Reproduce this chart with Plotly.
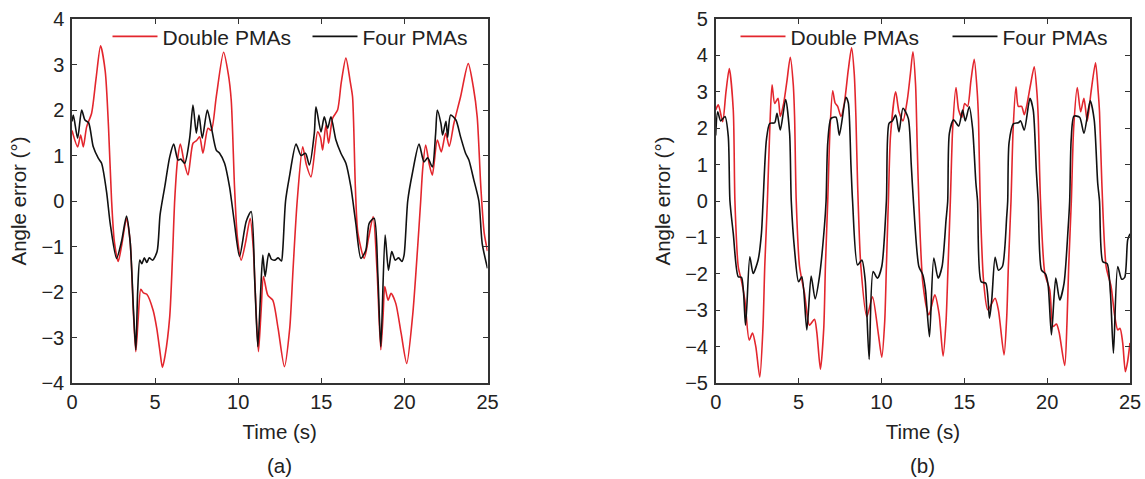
import plotly.graph_objects as go

# ---------------- data: panel (a) ----------------
t_a_double = [0.0, 0.34, 0.52, 0.68, 0.88, 1.18, 1.45, 1.72, 2.0, 2.2, 2.38, 2.55, 2.78, 3.0, 3.28,
              3.5, 3.7, 3.84, 3.98, 4.14, 4.3, 4.5, 4.88, 5.1, 5.28, 5.44, 5.6, 5.88, 6.05, 6.18,
              6.35, 6.52, 6.75, 6.98, 7.28, 7.5, 7.68, 7.88, 8.18, 8.38, 8.68, 9.12, 9.4, 9.58,
              9.78, 9.95, 10.18, 10.45, 10.72, 10.9, 11.1, 11.22, 11.38, 11.52, 11.78, 12.08,
              12.4, 12.78, 13.1, 13.3, 13.55, 13.88, 14.1, 14.38, 14.78, 14.95, 15.08, 15.28,
              15.44, 15.68, 15.98, 16.2, 16.48, 16.75, 16.88, 17.05, 17.2, 17.58, 17.85, 18.12,
              18.35, 18.58, 18.72, 18.82, 19.02, 19.2, 19.48, 19.8, 20.14, 20.5, 20.8, 20.98,
              21.1, 21.28, 21.5, 21.68, 21.98, 22.22, 22.48, 22.7, 22.98, 23.38, 23.84, 24.15,
              24.38, 24.6, 24.8, 25.0]
y_a_double = [1.55, 1.19, 1.45, 1.19, 1.63, 1.93, 2.7, 3.41, 2.85, 1.6, 0.02, -0.9, -1.33, -0.95, -0.38,
              -0.9, -2.5, -3.31, -2.6, -1.94, -2.02, -2.05, -2.40, -2.8, -3.27, -3.66, -3.4, -2.54, -1.2, 0.02,
              0.9, 1.25, 0.85, 0.57, 1.27, 1.33, 1.41, 1.05, 1.6, 1.55, 2.29, 3.27, 2.8, 2.22,
              0.3, -0.8, -1.30, -0.9, -0.38, -1.0, -2.6, -3.31, -2.4, -1.66, -2.07, -2.18,
              -2.8, -3.64, -2.8, -1.5, 0.0, 1.19, 0.8, 0.53, 1.52, 1.4, 1.12, 1.67,
              1.27, 1.82, 2.0, 2.6, 3.14, 2.6, 2.29, 0.3, -0.7, -1.26, -0.8, -0.34,
              -1.5, -3.27, -2.5, -1.88, -2.18, -2.03, -2.25, -2.9, -3.57, -2.5, -1.0, 0.0,
              0.7, 1.23, 0.8, 0.57, 1.34, 1.08, 1.49, 1.2, 1.71, 2.29, 3.02, 2.5,
              1.85, 0.3, -0.7, -1.1]

t_a_four = [0.0, 0.08, 0.34, 0.58, 0.78, 1.0, 1.28, 1.58, 1.78, 2.08, 2.3, 2.68, 2.98, 3.28, 3.5,
            3.7, 3.84, 3.95, 4.08, 4.2, 4.35, 4.5, 4.65, 4.85, 5.12, 5.3, 5.58, 5.88, 6.12, 6.38,
            6.55, 6.78, 7.08, 7.28, 7.48, 7.64, 7.84, 8.14, 8.38, 8.68, 8.88, 9.18, 9.48, 9.6,
            9.78, 10.08, 10.48, 10.78, 11.0, 11.18, 11.35, 11.48, 11.62, 11.84, 12.0, 12.2, 12.4,
            12.6, 12.68, 12.85, 13.08, 13.48, 13.78, 14.05, 14.28, 14.58, 14.68, 14.98, 15.18,
            15.38, 15.58, 15.88, 16.18, 16.48, 16.78, 16.9, 17.08, 17.38, 17.68, 17.88, 18.18,
            18.4, 18.58, 18.84, 19.04, 19.24, 19.45, 19.65, 19.85, 19.98, 20.2, 20.48, 20.88,
            21.18, 21.4, 21.68, 21.88, 21.98, 22.2, 22.3, 22.5, 22.6, 22.78, 23.1, 23.38, 23.68,
            23.88, 24.18, 24.48, 24.68, 25.0]
y_a_four = [1.75, 1.89, 1.38, 2.0, 1.78, 1.72, 1.19, 0.94, 0.83, 0.2, -0.5, -1.26, -0.89, -0.33, -0.9,
            -2.4, -3.27, -2.0, -1.30, -1.38, -1.25, -1.35, -1.25, -1.3, -1.11, -0.3, 0.31, 0.97, 1.25, 0.90,
            0.92, 0.83, 1.38, 2.11, 1.49, 1.89, 1.38, 2.0, 1.63, 1.12, 1.05, 0.83, 0.31, 0.0,
            -0.5, -1.22, -0.45, -0.23, -1.8, -3.2, -2.0, -1.19, -1.66, -1.15, -1.28, -1.3, -1.25,
            -1.32, -1.08, 0.0, 0.53, 1.25, 1.0, 1.05, 0.79, 1.49, 2.07, 1.52, 1.85,
            1.6, 1.85, 1.34, 1.05, 0.83, 0.31, 0.0, -0.5, -1.26, -1.08, -0.49, -0.38,
            -1.6, -3.2, -0.75, -1.52, -1.11, -1.3, -1.25, -1.33, -1.19, 0.0, 0.61, 1.25,
            0.86, 0.95, 0.75, 1.49, 2.0, 1.7, 1.45, 1.75, 1.4, 1.89, 1.78, 1.41, 1.05,
            0.9, 0.46, 0.0, -0.93, -1.48]

# ---------------- data: panel (b) ----------------
t_b_double = [0.0, 0.16, 0.42, 0.62, 0.82, 1.06, 1.16, 1.36, 1.56, 1.76, 2.02, 2.22, 2.42, 2.66, 2.85,
              2.96, 3.12, 3.25, 3.4, 3.56, 3.76, 3.9, 4.1, 4.3, 4.5, 4.68, 4.76, 4.86, 5.06, 5.36,
              5.66, 5.96, 6.1, 6.32, 6.52, 6.62, 6.76, 6.9, 7.06, 7.2, 7.36, 7.56, 7.76, 8.0, 8.2,
              8.36, 8.46, 8.56, 8.76, 9.12, 9.46, 9.8, 10.02, 10.2, 10.3, 10.42, 10.55, 10.86,
              11.06, 11.3, 11.56, 11.75, 11.9, 12.06, 12.16, 12.26, 12.5, 12.86, 13.22, 13.48,
              13.72, 13.9, 14.02, 14.16, 14.3, 14.5, 14.66, 14.86, 15.02, 15.2, 15.4, 15.6, 15.78,
              15.86, 15.96, 16.16, 16.42, 16.86, 17.06, 17.4, 17.56, 17.66, 17.82, 17.95, 18.12,
              18.26, 18.46, 18.62, 18.76, 19.0, 19.22, 19.38, 19.46, 19.6, 19.86, 20.16, 20.36,
              20.56, 20.72, 21.06, 21.2, 21.3, 21.46, 21.6, 21.82, 22.02, 22.22, 22.42, 22.65,
              22.92, 23.08, 23.16, 23.3, 23.56, 23.86, 24.06, 24.26, 24.4, 24.56, 24.72, 24.86, 25.0]
y_b_double = [2.5, 2.64, 2.18, 3.0, 3.64, 2.5, 0.0, -1.8, -2.2, -2.72, -3.82, -3.63, -4.0, -4.84, -3.5,
              -1.8, 0.0, 1.8, 3.19, 2.68, 2.82, 2.32, 2.68, 3.3, 3.95, 3.2, 2.32, 0.0, -1.8, -2.54,
              -3.41, -3.25, -3.6, -4.62, -3.5, -1.8, 0.0, 2.0, 3.03, 2.7, 2.6, 2.32, 2.68, 3.6, 4.21,
              3.5, 2.32, 0.5, -1.8, -3.18, -2.63, -3.6, -4.29, -3.3, -1.8, 0.0, 1.8, 3.0,
              2.45, 2.2, 2.77, 3.5, 4.1, 3.2, 1.5, 0.0, -2.26, -3.13, -2.58, -3.1,
              -4.26, -3.3, -1.8, 0.0, 2.0, 3.12, 2.5, 2.3, 2.68, 2.6, 3.3, 3.89, 3.0,
              2.23, 0.0, -2.17, -2.99, -2.67, -3.0, -4.23, -3.2, -1.8, 0.0, 2.0, 3.14,
              2.6, 2.6, 2.37, 2.6, 3.2, 3.69, 3.0, 2.32, 0.0, -1.99, -2.45, -3.45,
              -3.38, -3.6, -4.52, -3.3, -1.8, 0.0, 2.0, 3.12, 2.45, 2.82, 2.2, 3.0,
              3.8, 3.0, 2.45, 0.5, -1.8, -2.35, -3.1, -3.54, -3.5, -3.9, -4.69, -4.4, -3.9]

t_b_four = [0.0, 0.12, 0.3, 0.56, 0.76, 0.86, 1.06, 1.36, 1.56, 1.8, 2.06, 2.26, 2.56, 2.76, 2.86,
            3.06, 3.26, 3.56, 3.7, 3.9, 4.22, 4.46, 4.56, 4.76, 5.0, 5.2, 5.5, 5.76, 6.0, 6.26,
            6.56, 6.66, 6.76, 6.96, 7.26, 7.46, 7.86, 8.0, 8.16, 8.26, 8.56, 8.82, 9.02, 9.26,
            9.5, 9.76, 10.02, 10.3, 10.46, 10.66, 10.86, 11.06, 11.3, 11.62, 11.8, 11.93, 12.26,
            12.5, 12.66, 12.9, 13.16, 13.42, 13.66, 13.9, 14.0, 14.1, 14.36, 14.66, 14.9, 15.06,
            15.3, 15.5, 15.7, 15.8, 16.02, 16.3, 16.52, 16.66, 16.86, 17.06, 17.3, 17.56, 17.62,
            17.7, 17.96, 18.26, 18.4, 18.62, 18.96, 19.16, 19.35, 19.46, 19.66, 19.9, 20.06,
            20.26, 20.52, 20.76, 21.02, 21.26, 21.36, 21.45, 21.62, 21.96, 22.22, 22.6, 22.84,
            23.05, 23.16, 23.36, 23.62, 23.82, 24.0, 24.26, 24.5, 24.68, 24.86, 25.0]
y_b_four = [1.8, 2.45, 2.2, 2.32, 1.77, 0.0, -0.89, -2.08, -2.1, -3.41, -1.53, -1.99, -1.62, -0.89, 0.0,
            1.68, 2.13, 2.15, 2.41, 1.95, 2.79, 1.86, 0.0, -1.35, -2.22, -2.08, -3.54, -2.06, -2.69, -2.08,
            -0.7, 0.0, 1.59, 2.27, 2.3, 1.81, 2.85, 2.7, 1.0, 0.0, -1.76, -1.62, -2.17, -4.35,
            -1.94, -2.12, -1.8, 0.0, 2.13, 2.2, 2.36, 1.9, 2.55, 2.27, 1.0, 0.0, -1.8,
            -2.03, -2.45, -3.73, -1.57, -2.12, -1.8, -0.52, 0.0, 1.86, 2.23, 2.06, 2.5, 2.2,
            2.59, 2.0, 0.5, 0.0, -2.22, -2.26, -3.22, -2.7, -1.55, -1.9, -1.8, -0.43, 0.0,
            1.59, 2.12, 2.15, 2.2, 1.95, 2.82, 2.5, 0.8, 0.0, -1.9, -2.0, -2.31,
            -3.68, -2.12, -2.72, -2.26, -0.8, 0.0, 1.68, 2.33, 2.3, 1.86, 2.75, 2.23,
            0.5, 0.0, -1.67, -1.72, -2.54, -4.18, -1.8, -2.15, -2.1, -1.07, -0.9]

series_names = ["Double PMAs", "Four PMAs"]
panel_labels = ["(a)", "(b)"]
x_title = "Time (s)"
y_title = "Angle error (°)"

RED = "#e3262d"
BLACK = "#111111"
FRAME = "#333333"
FONT = "Liberation Sans, Arial, sans-serif"

W, H = 1145, 479


def px_x(p):
    return p / W


def px_y(p):
    return 1 - p / H


fig = go.Figure()

panels = [
    ("x", "y", "legend", t_a_double, y_a_double, t_a_four, y_a_four),
    ("x2", "y2", "legend2", t_b_double, y_b_double, t_b_four, y_b_four),
]
for xa, ya, lg, td, yd, tf, yf in panels:
    fig.add_trace(go.Scatter(x=td, y=yd, mode="lines", name=series_names[0], xaxis=xa, yaxis=ya,
                             legend=lg, line=dict(color=RED, width=1.6, shape="spline", smoothing=0.7)))
    fig.add_trace(go.Scatter(x=tf, y=yf, mode="lines", name=series_names[1], xaxis=xa, yaxis=ya,
                             legend=lg, line=dict(color=BLACK, width=1.6, shape="spline", smoothing=0.7)))

axis_common = dict(
    showline=True, linecolor=FRAME, linewidth=1.5, mirror="allticks",
    ticks="inside", ticklen=5, tickwidth=1.2, tickcolor=FRAME,
    showgrid=False, zeroline=False,
    tickfont=dict(family=FONT, size=20, color="#222"),
)

fig.update_layout(
    width=W, height=H,
    margin=dict(l=0, r=0, t=0, b=0, autoexpand=False),
    paper_bgcolor="white", plot_bgcolor="white",
    font=dict(family=FONT, color="#222"),
    xaxis=dict(domain=[px_x(72), px_x(487.5)], range=[0, 25], dtick=5, anchor="y",
               title=dict(text=x_title, font=dict(size=20.5), standoff=13),
               ticklabelstandoff=0, **axis_common),
    yaxis=dict(domain=[px_y(383), px_y(19)], range=[-4, 4], dtick=1, anchor="x",
               title=dict(text=y_title, font=dict(size=20.5), standoff=9),
               ticklabelstandoff=2, **axis_common),
    xaxis2=dict(domain=[px_x(715.7), px_x(1130)], range=[0, 25], dtick=5, anchor="y2",
                title=dict(text=x_title, font=dict(size=20.5), standoff=13),
                ticklabelstandoff=0, **axis_common),
    yaxis2=dict(domain=[px_y(383), px_y(19)], range=[-5, 5], dtick=1, anchor="x2",
                title=dict(text=y_title, font=dict(size=20.5), standoff=9),
                ticklabelstandoff=2, **axis_common),
    legend=dict(orientation="h", x=px_x(107.5), y=px_y(36.7), xanchor="left", yanchor="middle",
                bgcolor="rgba(0,0,0,0)", font=dict(size=21, family=FONT, color="#222"),
                itemwidth=45, entrywidth=140),
    legend2=dict(orientation="h", x=px_x(735.5), y=px_y(36.7), xanchor="left", yanchor="middle",
                 bgcolor="rgba(0,0,0,0)", font=dict(size=21, family=FONT, color="#222"),
                 itemwidth=45, entrywidth=152),
    showlegend=True,
)

for label, cx in zip(panel_labels, [279.5, 922.8]):
    fig.add_annotation(text=label, x=px_x(cx), y=px_y(465), xref="paper", yref="paper",
                       xanchor="center", yanchor="middle", showarrow=False,
                       font=dict(family=FONT, size=20.5, color="#222"))

# remove the default 8 px page margin so the figure fills the window exactly
fig.write_html("out.html", config={"displayModeBar": False},
               post_script="document.body.style.margin='0';document.body.style.overflow='hidden';")
